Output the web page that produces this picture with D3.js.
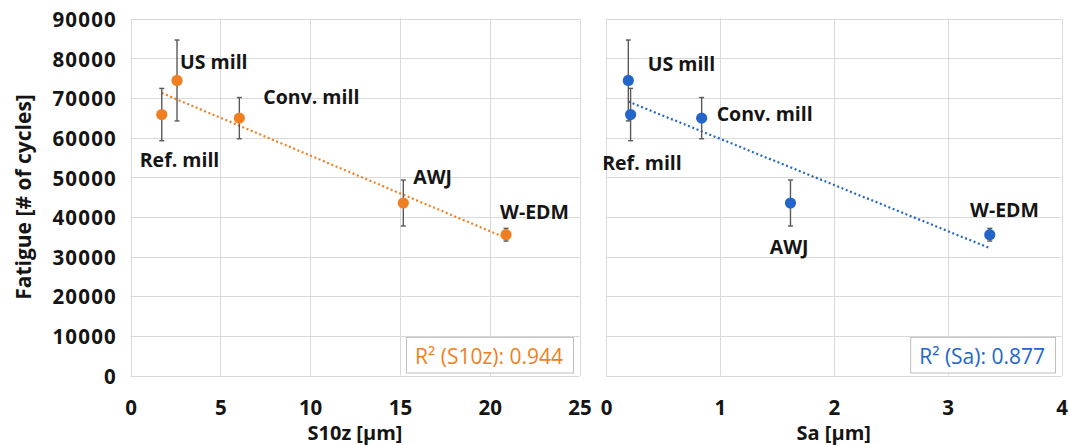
<!DOCTYPE html>
<html>
<head>
<meta charset="utf-8">
<script src="https://cdn.jsdelivr.net/npm/d3@7"></script>
<style>
  html, body { margin: 0; padding: 0; background: #fff; }
  svg { display: block; font-family: "Open Sans", "DejaVu Sans", sans-serif; }
</style>
</head>
<body>
<svg id="chart" width="1069" height="445"></svg>
<script>
// ---- data ----
const categories = ["Ref. mill", "US mill", "Conv. mill", "AWJ", "W-EDM"];
const s10z = [1.74, 2.59, 6.06, 15.19, 20.91];        // µm
const sa = [0.216, 0.196, 0.84, 1.62, 3.37];           // µm
const fatigue = [65800, 74400, 64900, 43500, 35500];   // # of cycles
const fatigueSD = [6600, 10200, 5200, 5800, 1600];
const yTicks = [0, 10000, 20000, 30000, 40000, 50000, 60000, 70000, 80000, 90000];
const s10zTicks = [0, 5, 10, 15, 20, 25];
const saTicks = [0, 1, 2, 3, 4];
const r2S10z = "R² (S10z): 0.944";
const r2Sa = "R² (Sa): 0.877";

// ---- layout ----
const svg = d3.select("#chart");
const plotTop = 18.6, plotBottom = 375.5;
const y = d3.scaleLinear().domain([0, 90000]).range([plotBottom, plotTop]);

const panels = [
  { xs: s10z, ticks: s10zTicks, domain: [0, 25], range: [130.5, 579.5], color: "#F07F22",
    title: "S10z [µm]", r2: r2S10z, yLabels: true,
    offs: [[-22, 52], [3, -11.5], [24, -13.7], [10, -19], [-6, -15.7]] },
  { xs: sa, ticks: saTicks, domain: [0, 4], range: [606, 1061.5], color: "#2366C9",
    title: "Sa [µm]", r2: r2Sa, yLabels: false,
    offs: [[-28.4, 55], [19.4, -9.3], [15, 3.3], [-20.7, 50.6], [-19.7, -17.6]] }
];

const grid = "#D9D9D9";
const ink = "#151515";

panels.forEach(p => {
  const x = d3.scaleLinear().domain(p.domain).range(p.range);
  const g = svg.append("g");

  // horizontal gridlines
  g.append("g").selectAll("line").data(yTicks).join("line")
    .attr("x1", p.range[0]).attr("x2", p.range[1])
    .attr("y1", d => Math.round(y(d)) + 0.5).attr("y2", d => Math.round(y(d)) + 0.5)
    .attr("stroke", grid).attr("stroke-width", 1);
  // vertical gridlines
  g.append("g").selectAll("line").data(p.ticks).join("line")
    .attr("x1", d => Math.round(x(d)) + 0.5).attr("x2", d => Math.round(x(d)) + 0.5)
    .attr("y1", y(90000)).attr("y2", y(0))
    .attr("stroke", grid).attr("stroke-width", 1);

  // x tick labels (axis)
  const xAxis = d3.axisBottom(x).tickValues(p.ticks).tickSize(0).tickPadding(0).tickFormat(d3.format("d"));
  const xa = g.append("g").attr("transform", `translate(0,${plotBottom})`).call(xAxis);
  xa.select(".domain").remove();
  xa.selectAll("text").attr("y", 39.5).attr("dy", null)
    .attr("font-family", '"Open Sans", sans-serif').attr("font-size", 20.5)
    .attr("font-weight", 700).attr("fill", ink);

  // y tick labels
  if (p.yLabels) {
    const yAxis = d3.axisLeft(y).tickValues(yTicks).tickSize(0).tickPadding(0).tickFormat(d3.format("d"));
    const ya = g.append("g").attr("transform", `translate(117,0)`).call(yAxis);
    ya.select(".domain").remove();
    ya.selectAll("text").attr("dy", "0.38em").attr("x", 0)
      .attr("font-family", '"Open Sans", sans-serif').attr("font-size", 20.5)
      .attr("font-weight", 700).attr("letter-spacing", 1.2).attr("fill", ink)
      .attr("text-anchor", "end");
  }

  // x axis title
  g.append("text").attr("x", (p.range[0] + p.range[1]) / 2).attr("y", 440)
    .attr("text-anchor", "middle").attr("font-size", 20).attr("font-weight", 700)
    .attr("fill", ink).text(p.title);

  // linear regression trendline
  const n = p.xs.length;
  const mx = d3.mean(p.xs), my = d3.mean(fatigue);
  let sxy = 0, sxx = 0;
  for (let i = 0; i < n; i++) { sxy += (p.xs[i] - mx) * (fatigue[i] - my); sxx += (p.xs[i] - mx) ** 2; }
  const slope = sxy / sxx, icpt = my - slope * mx;
  const [x0, x1] = d3.extent(p.xs);
  g.append("line")
    .attr("x1", x(x0)).attr("y1", y(icpt + slope * x0))
    .attr("x2", x(x1)).attr("y2", y(icpt + slope * x1))
    .attr("stroke", p.color).attr("stroke-width", 2.2).attr("stroke-dasharray", "2,2.6");

  const pts = categories.map((c, i) => ({ c, xv: p.xs[i], yv: fatigue[i], sd: fatigueSD[i], off: p.offs[i] }));

  // error bars
  const eb = g.append("g").attr("stroke", "#595959").attr("stroke-width", 1.4);
  pts.forEach(d => {
    const cx = x(d.xv);
    eb.append("line").attr("x1", cx).attr("x2", cx).attr("y1", y(d.yv + d.sd)).attr("y2", y(d.yv - d.sd));
    eb.append("line").attr("x1", cx - 2.5).attr("x2", cx + 2.5).attr("y1", y(d.yv + d.sd)).attr("y2", y(d.yv + d.sd));
    eb.append("line").attr("x1", cx - 2.5).attr("x2", cx + 2.5).attr("y1", y(d.yv - d.sd)).attr("y2", y(d.yv - d.sd));
  });

  // points
  g.append("g").selectAll("circle").data(pts).join("circle")
    .attr("cx", d => x(d.xv)).attr("cy", d => y(d.yv)).attr("r", 5.6)
    .attr("fill", p.color);

  // point labels
  g.append("g").selectAll("text").data(pts).join("text")
    .attr("x", d => x(d.xv) + d.off[0]).attr("y", d => y(d.yv) + d.off[1])
    .attr("font-size", 19.5).attr("font-weight", 700).attr("fill", ink)
    .text(d => d.c);

  // R² box
  const boxRight = p.range[1] - 6, boxBottom = plotBottom - 2.5;
  const boxG = g.append("g");
  const rect = boxG.append("rect");
  const t = boxG.append("text").attr("x", 0).attr("y", boxBottom - 9.5)
    .attr("font-size", 21).attr("font-weight", 500).attr("fill", p.color).text(p.r2);
  const w = t.node().getComputedTextLength();
  const boxW = w + 19, boxH = 35.6;
  t.attr("x", boxRight - boxW + 8.5);
  rect.attr("x", boxRight - boxW).attr("y", boxBottom - boxH)
    .attr("width", boxW).attr("height", boxH)
    .attr("fill", "#fff").attr("stroke", "#BFBFBF").attr("stroke-width", 1);
});

// y axis title
svg.append("text").attr("transform", `translate(31,197) rotate(-90)`)
  .attr("text-anchor", "middle").attr("font-size", 21).attr("font-weight", 700)
  .attr("fill", ink).text("Fatigue [# of cycles]");
</script>
</body>
</html>
